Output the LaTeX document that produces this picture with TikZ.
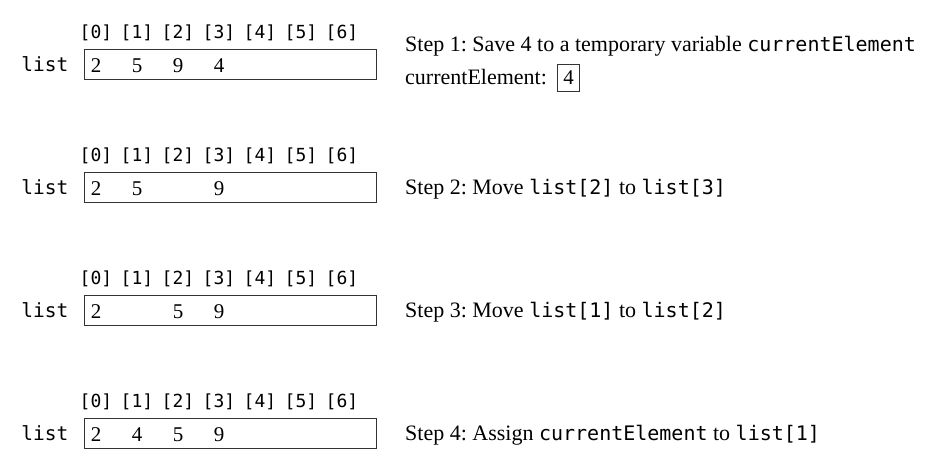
\documentclass[tikz,border=0pt]{standalone}
\usepackage{fontspec}
\setmainfont{Liberation Serif}
\setmonofont{DejaVu Sans Mono}
\usepackage{tikz}
\usetikzlibrary{
  matrix,
  positioning
}
\newcommand{\codetxt}[1]{{\fontsize{20}{24}\selectfont\ttfamily #1}}
\frenchspacing

\begin{document}
\begin{tikzpicture}[
      x=1pt, y=1pt,
      index/.style={
         inner sep=0pt,
         minimum width=41pt,
         font=\fontsize{18}{20}\selectfont\ttfamily
      },
      index row/.style={
         matrix,
         column sep=0pt,
         inner sep=0pt,
         nodes={index}
      },
      cell/.style={
         inner sep=0pt,
         yshift=-1.5pt,
         font=\fontsize{21}{24}\selectfont
      },
      arraybox/.style={
         rectangle,
         draw=black!80,
         line width=0.9pt,
         minimum width=292pt,
         minimum height=30pt
      },
      name label/.style={
         inner sep=0pt,
         font=\fontsize{19.5}{22}\selectfont\ttfamily
      },
      step text/.style={
         anchor=base west,
         inner sep=0pt,
         font=\fontsize{22}{26}\selectfont
      },
      temp box/.style={
         rectangle,
         draw=black!80,
         line width=0.9pt,
         minimum width=22pt,
         minimum height=27pt,
         inner sep=0pt,
         font=\fontsize{21}{24}\selectfont
      }
    ]
    \useasboundingbox (0,0) rectangle (940,462);

    % step 1
    \node[arraybox] (b1) at (230,398) {};
    \matrix (m1) [index row] at (219,429.5) {
      \node (i10) {[0]}; & \node (i11) {[1]}; & \node (i12) {[2]}; & \node (i13) {[3]}; & \node (i14) {[4]}; & \node (i15) {[5]}; & \node (i16) {[6]};\\
    };
    \node[name label, left=15pt of b1] (l1) {list};
    \node[cell] (v10) at (i10 |- b1) {2};
    \node[cell] (v11) at (i11 |- b1) {5};
    \node[cell] (v12) at (i12 |- b1) {9};
    \node[cell] (v13) at (i13 |- b1) {4};
    \node[step text] (s1) at (405,410) {Step 1: Save 4 to a temporary variable \codetxt{currentElement}};
    \node[step text] (c1) at (405,377) {currentElement:};
    \node[temp box, right=10pt of c1] (t1) {4};

    % step 2
    \node[arraybox] (b2) at (230,275) {};
    \matrix (m2) [index row] at (219,306.5) {
      \node (i20) {[0]}; & \node (i21) {[1]}; & \node (i22) {[2]}; & \node (i23) {[3]}; & \node (i24) {[4]}; & \node (i25) {[5]}; & \node (i26) {[6]};\\
    };
    \node[name label, left=15pt of b2] (l2) {list};
    \node[cell] (v20) at (i20 |- b2) {2};
    \node[cell] (v21) at (i21 |- b2) {5};
    \node[cell] (v23) at (i23 |- b2) {9};
    \node[step text] (s2) at (405,267) {Step 2: Move \codetxt{list[2]} to \codetxt{list[3]}};

    % step 3
    \node[arraybox] (b3) at (230,152) {};
    \matrix (m3) [index row] at (219,183.5) {
      \node (i30) {[0]}; & \node (i31) {[1]}; & \node (i32) {[2]}; & \node (i33) {[3]}; & \node (i34) {[4]}; & \node (i35) {[5]}; & \node (i36) {[6]};\\
    };
    \node[name label, left=15pt of b3] (l3) {list};
    \node[cell] (v30) at (i30 |- b3) {2};
    \node[cell] (v32) at (i32 |- b3) {5};
    \node[cell] (v33) at (i33 |- b3) {9};
    \node[step text] (s3) at (405,144) {Step 3: Move \codetxt{list[1]} to \codetxt{list[2]}};

    % step 4
    \node[arraybox] (b4) at (230,29) {};
    \matrix (m4) [index row] at (219,60.5) {
      \node (i40) {[0]}; & \node (i41) {[1]}; & \node (i42) {[2]}; & \node (i43) {[3]}; & \node (i44) {[4]}; & \node (i45) {[5]}; & \node (i46) {[6]};\\
    };
    \node[name label, left=15pt of b4] (l4) {list};
    \node[cell] (v40) at (i40 |- b4) {2};
    \node[cell] (v41) at (i41 |- b4) {4};
    \node[cell] (v42) at (i42 |- b4) {5};
    \node[cell] (v43) at (i43 |- b4) {9};
    \node[step text] (s4) at (405,21) {Step 4: Assign \codetxt{currentElement} to \codetxt{list[1]}};
\end{tikzpicture}
\end{document}
